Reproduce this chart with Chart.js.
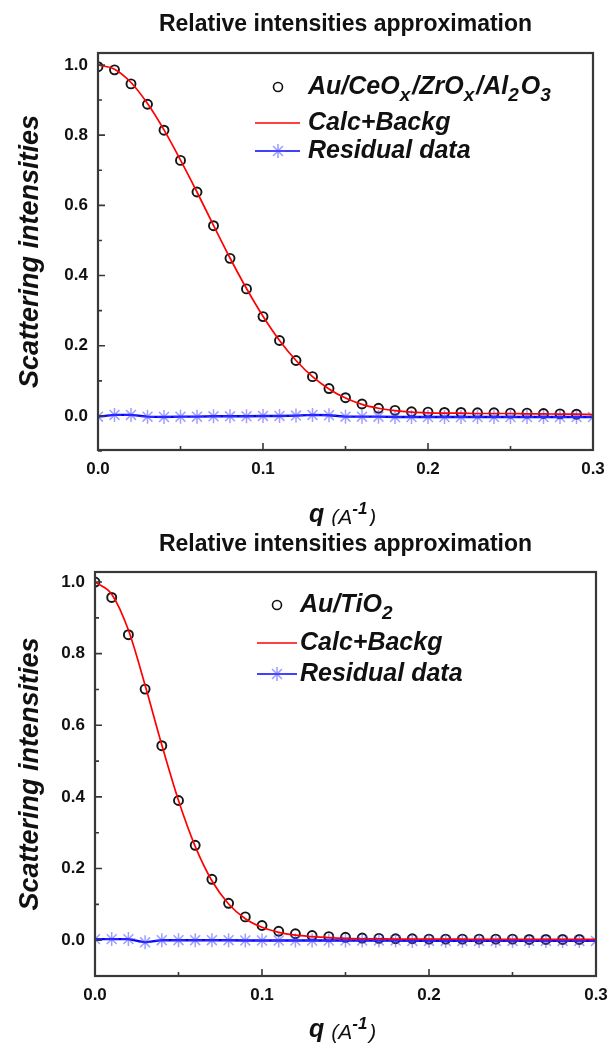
<!DOCTYPE html>
<html>
<head>
<meta charset="utf-8">
<script src="https://cdn.jsdelivr.net/npm/chart.js@4.4.1/dist/chart.umd.min.js"></script>
<style>
  body { margin: 0; background: #fff; }
  .panel { position: absolute; left: 0; width: 610px; height: 526px; }
</style>
</head>
<body>
<div class="panel" style="top:0"><canvas id="chartA" width="610" height="526"></canvas></div>
<div class="panel" style="top:526px"><canvas id="chartB" width="610" height="526"></canvas></div>
<script>
const FONT = "'Liberation Sans', Arial, sans-serif";

// q values of the measured points (A^-1)
const qObs = [0.00, 0.01, 0.02, 0.03, 0.04, 0.05, 0.06, 0.07, 0.08, 0.09,
              0.10, 0.11, 0.12, 0.13, 0.14, 0.15, 0.16, 0.17, 0.18, 0.19,
              0.20, 0.21, 0.22, 0.23, 0.24, 0.25, 0.26, 0.27, 0.28, 0.29];
// fit curve and residuals run to the right edge
const qFit = [0.00, 0.01, 0.02, 0.03, 0.04, 0.05, 0.06, 0.07, 0.08, 0.09,
              0.10, 0.11, 0.12, 0.13, 0.14, 0.15, 0.16, 0.17, 0.18, 0.19,
              0.20, 0.21, 0.22, 0.23, 0.24, 0.25, 0.26, 0.27, 0.28, 0.29, 0.30];

// top panel: Au/CeOx/ZrOx/Al2O3
const obsA  = [0.995, 0.986, 0.946, 0.888, 0.814, 0.728, 0.638, 0.542, 0.449, 0.362,
               0.283, 0.215, 0.158, 0.112, 0.078, 0.052, 0.034, 0.022, 0.016, 0.012,
               0.011, 0.010, 0.010, 0.009, 0.009, 0.008, 0.008, 0.007, 0.006, 0.005];
const calcA = [1.000, 0.988, 0.950, 0.890, 0.815, 0.729, 0.638, 0.543, 0.450, 0.363,
               0.284, 0.215, 0.158, 0.112, 0.077, 0.051, 0.033, 0.022, 0.015, 0.011,
               0.009, 0.008, 0.008, 0.007, 0.007, 0.007, 0.006, 0.006, 0.005, 0.005, 0.004];
const resA  = [-0.002, 0.003, 0.003, -0.002, -0.003, -0.002, -0.002, -0.001, -0.001, -0.001,
               0.000, 0.000, 0.001, 0.003, 0.002, -0.002, -0.002, -0.002, -0.003, -0.003,
               -0.003, -0.003, -0.003, -0.003, -0.003, -0.003, -0.003, -0.003, -0.003, -0.003, -0.003];

// bottom panel: Au/TiO2
const obsB  = [1.000, 0.957, 0.853, 0.701, 0.543, 0.390, 0.265, 0.170, 0.103, 0.065,
               0.041, 0.025, 0.018, 0.013, 0.010, 0.008, 0.006, 0.005, 0.004, 0.004,
               0.003, 0.003, 0.003, 0.003, 0.003, 0.003, 0.002, 0.002, 0.002, 0.002];
const calcB = [1.000, 0.966, 0.866, 0.712, 0.545, 0.390, 0.262, 0.166, 0.101, 0.060,
               0.036, 0.022, 0.014, 0.010, 0.007, 0.005, 0.004, 0.004, 0.003, 0.003,
               0.003, 0.003, 0.003, 0.002, 0.002, 0.002, 0.002, 0.002, 0.002, 0.002, 0.002];
const resB  = [0.003, 0.003, 0.003, -0.006, 0.000, 0.000, 0.000, 0.000, 0.000, -0.001,
               -0.001, -0.001, -0.001, -0.001, -0.001, -0.001, -0.001, -0.001, -0.001, -0.002,
               -0.002, -0.002, -0.002, -0.002, -0.002, -0.002, -0.002, -0.002, -0.002, -0.002, -0.002];

// ticks
const xMajor = [0, 0.1, 0.2, 0.3];
const xMinor = [0.05, 0.15, 0.25];
const yMajor = [0, 0.2, 0.4, 0.6, 0.8, 1.0];
const yMinor = [-0.1, 0.1, 0.3, 0.5, 0.7, 0.9];

const titleText = 'Relative intensities approximation';
const yTitle = 'Scattering intensities';

function pts(xs, ys) {
  return ys.map((v, i) => ({ x: xs[i], y: v }));
}

// text with '_c' subscripts
function drawRich(ctx, x, y, text, size) {
  let cx = x;
  for (let i = 0; i < text.length; i++) {
    let ch = text[i], sub = false;
    if (ch === '_') { ch = text[++i]; sub = true; }
    ctx.font = 'italic bold ' + (sub ? Math.round(size * 0.74) : size) + 'px ' + FONT;
    ctx.fillText(ch, cx, sub ? y + size * 0.34 : y);
    cx += ctx.measureText(ch).width + (sub ? 2 : 0);
  }
}

function makePanel(id, p) {
  const framePlugin = {
    id: 'frame',
    afterDatasetsDraw(chart) {
      const { ctx, chartArea: a, scales: { x, y } } = chart;
      ctx.save();
      ctx.strokeStyle = '#383838';
      ctx.lineWidth = 2.2;
      ctx.strokeRect(a.left, a.top, a.right - a.left, a.bottom - a.top);
      ctx.lineWidth = 1.6;
      ctx.beginPath();
      xMajor.forEach(v => { const px = x.getPixelForValue(v); ctx.moveTo(px, a.bottom); ctx.lineTo(px, a.bottom - 7); });
      xMinor.forEach(v => { const px = x.getPixelForValue(v); ctx.moveTo(px, a.bottom); ctx.lineTo(px, a.bottom - 4); });
      yMajor.forEach(v => { const py = y.getPixelForValue(v); ctx.moveTo(a.left, py); ctx.lineTo(a.left + 7, py); });
      yMinor.forEach(v => { const py = y.getPixelForValue(v); ctx.moveTo(a.left, py); ctx.lineTo(a.left + 4, py); });
      ctx.stroke();

      // x axis title: q (A^-1)
      ctx.fillStyle = '#111';
      ctx.textBaseline = 'middle';
      ctx.textAlign = 'left';
      let cx = p.xTitleX;
      const ty = p.xTitleY;
      ctx.font = 'italic bold 25px ' + FONT;
      ctx.fillText('q', cx, ty); cx += ctx.measureText('q ').width;
      ctx.font = 'italic 21px ' + FONT;
      ctx.fillText('(A', cx, ty + 3); cx += ctx.measureText('(A').width;
      ctx.font = 'italic bold 17px ' + FONT;
      ctx.fillText('-1', cx, ty - 6); cx += ctx.measureText('-1').width + 2;
      ctx.font = 'italic 21px ' + FONT;
      ctx.fillText(')', cx, ty + 3);
      ctx.restore();
    }
  };

  const legendPlugin = {
    id: 'insideLegend',
    afterDraw(chart) {
      const ctx = chart.ctx, L = p.legend;
      ctx.save();
      ctx.textBaseline = 'middle';
      ctx.textAlign = 'left';
      chart.data.datasets.forEach(ds => {
        const y = L.rows[ds.key];
        if (ds.key === 'obs') {
          ctx.beginPath();
          ctx.arc(L.markX, y, 4.5, 0, Math.PI * 2);
          ctx.lineWidth = 1.6; ctx.strokeStyle = '#111'; ctx.stroke();
        } else {
          ctx.beginPath();
          ctx.moveTo(L.lineX0, y); ctx.lineTo(L.lineX1, y);
          ctx.lineWidth = 1.6; ctx.strokeStyle = ds.borderColor; ctx.stroke();
          if (ds.key === 'res') {
            ctx.strokeStyle = ds.pointBorderColor;
            Chart.helpers.drawPoint(ctx, { pointStyle: 'star', radius: 7, borderWidth: 1.5, rotation: 0 }, L.markX, y);
          }
        }
        ctx.fillStyle = '#111';
        drawRich(ctx, L.textX, y, ds.label, 25);
      });
      ctx.restore();
    }
  };

  return new Chart(document.getElementById(id), {
    type: 'line',
    data: {
      datasets: [
        {
          key: 'calc', label: 'Calc+Backg', data: pts(qFit, p.calc),
          borderColor: '#ff0000', borderWidth: 1.7, pointRadius: 0,
          cubicInterpolationMode: 'monotone', fill: false
        },
        {
          key: 'res', label: 'Residual data', data: pts(qFit, p.res),
          borderColor: '#0000ff', borderWidth: 2.4,
          pointStyle: 'star', pointRadius: 7, pointBorderWidth: 1.5,
          pointBorderColor: 'rgba(80,80,255,0.55)', pointBackgroundColor: 'rgba(0,0,0,0)', fill: false
        },
        {
          key: 'obs', label: p.name, data: pts(qObs, p.obs), showLine: false,
          pointStyle: 'circle', pointRadius: 4.5, pointBorderWidth: 1.9,
          pointBorderColor: '#151515', pointBackgroundColor: 'rgba(0,0,0,0)'
        }
      ]
    },
    options: {
      responsive: false,
      animation: false,
      devicePixelRatio: 1,
      layout: { padding: { left: 0, right: 610 - p.area.right, top: 0, bottom: 0 } },
      plugins: {
        legend: { display: false },
        tooltip: { enabled: false },
        title: {
          display: true, text: titleText, fullSize: false, color: '#111',
          font: { family: FONT, size: 23, weight: 'bold', lineHeight: 1.2 },
          padding: { top: p.titleY - 13.8, bottom: p.area.top - (p.titleY - 13.8) - 27.6 }
        }
      },
      scales: {
        x: {
          type: 'linear', min: 0, max: 0.3,
          afterFit: s => { s.height = 526 - p.area.bottom; s.paddingLeft = 0; s.paddingRight = 0; },
          afterBuildTicks: s => { s.ticks = xMajor.map(v => ({ value: v })); },
          grid: { display: false, drawTicks: false },
          border: { display: false },
          ticks: {
            padding: 9, color: '#111', maxRotation: 0, autoSkip: false,
            font: { family: FONT, size: 17, weight: 'bold' },
            callback: v => v.toFixed(1)
          }
        },
        y: {
          type: 'linear', min: p.yMin, max: p.yMax,
          afterFit: s => { s.width = p.area.left; s.paddingTop = 0; s.paddingBottom = 0; },
          afterBuildTicks: s => { s.ticks = yMajor.map(v => ({ value: v })); },
          grid: { display: false, drawTicks: false },
          border: { display: false },
          ticks: {
            padding: 10, color: '#111', autoSkip: false,
            font: { family: FONT, size: 17, weight: 'bold' },
            callback: v => v.toFixed(1)
          },
          title: {
            display: true, text: yTitle, color: '#111',
            font: { family: FONT, size: 27, weight: 'bold', style: 'italic', lineHeight: 1.2 },
            padding: { top: 14, bottom: 0 }
          }
        }
      }
    },
    plugins: [framePlugin, legendPlugin]
  });
}

makePanel('chartA', {
  name: 'Au/CeO_x/ZrO_x/Al_2O_3', obs: obsA, calc: calcA, res: resA,
  area: { left: 98, right: 593, top: 53, bottom: 450 },
  yMin: -0.097, yMax: 1.034, titleY: 25,
  xTitleX: 309, xTitleY: 515,
  legend: { markX: 278, lineX0: 255, lineX1: 300, textX: 308, rows: { obs: 87, calc: 123, res: 151 } }
});

makePanel('chartB', {
  name: 'Au/TiO_2', obs: obsB, calc: calcB, res: resB,
  area: { left: 95, right: 596, top: 46, bottom: 450 },
  yMin: -0.1, yMax: 1.028, titleY: 19,
  xTitleX: 309, xTitleY: 504,
  legend: { markX: 277, lineX0: 257, lineX1: 297, textX: 300, rows: { obs: 79, calc: 117, res: 148 } }
});
</script>
</body>
</html>
